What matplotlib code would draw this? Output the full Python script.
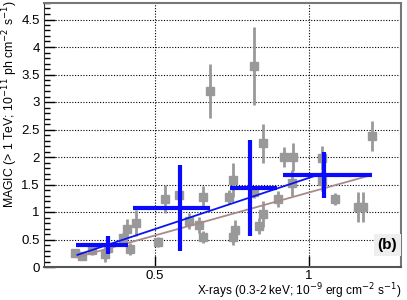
#!/usr/bin/env python3
"""MAGIC vs X-ray flux correlation, panel (b)."""

import numpy as np
import matplotlib
matplotlib.use("Agg")
import matplotlib.pyplot as plt
from matplotlib.ticker import MultipleLocator, FixedLocator

plt.rcParams["font.family"] = ["Liberation Sans", "DejaVu Sans"]

# Individual nights (gray)
xray = [0.243, 0.266, 0.298, 0.340, 0.350, 0.399, 0.412, 0.421, 0.441, 0.512,
        0.535, 0.580, 0.612, 0.642, 0.658, 0.658, 0.680, 0.742, 0.755, 0.752,
        0.761, 0.823, 0.820, 0.839, 0.852, 0.852, 0.898, 0.917, 0.946, 0.943,
        1.040, 1.040, 1.082, 1.157, 1.173, 1.202]
magic = [0.255, 0.20, 0.31, 0.24, 0.35, 0.53, 0.69, 0.33, 0.80, 0.45,
         1.24, 1.31, 0.84, 0.76, 1.27, 0.55, 3.20, 1.27, 1.58, 0.55,
         0.67, 3.65, 1.36, 0.75, 0.96, 2.25, 1.24, 2.00, 2.00, 1.53,
         1.98, 1.56, 1.24, 1.09, 1.09, 2.38]
magic_err = [0.07, 0.07, 0.09, 0.15, 0.11, 0.09, 0.18, 0.11, 0.24, 0.09,
             0.25, 0.22, 0.15, 0.15, 0.20, 0.11, 0.49, 0.13, 0.31, 0.15,
             0.18, 0.71, 0.11, 0.15, 0.24, 0.35, 0.15, 0.18, 0.25, 0.24,
             0.22, 0.18, 0.11, 0.27, 0.27, 0.27]

# Binned averages (blue crosses)
bin_x = [0.350, 0.581, 0.807, 1.048]
bin_xlo = [0.104, 0.151, 0.064, 0.132]
bin_xhi = [0.065, 0.097, 0.090, 0.154]
bin_y = [0.40, 1.067, 1.431, 1.673]
bin_yerr = [0.17, 0.78, 0.87, 0.42]

# Fit lines: (x0, x1), (y0, y1)
fit_blue_x = [0.250, 1.047]
fit_blue_y = [0.22, 1.71]
fit_brown_x = [0.250, 1.200]
fit_brown_y = [0.18, 1.67]

W, H = 407, 300
fig = plt.figure(figsize=(W / 100, H / 100), dpi=100)
ax = fig.add_axes([44 / W, 1 - 267 / H, (401 - 44) / W, (267 - 3) / H])

gray = "#999999"
ax.errorbar(xray, magic, yerr=magic_err, fmt="s", color=gray, ms=5.5,
            elinewidth=2, capsize=0, zorder=2)
ax.plot(fit_brown_x, fit_brown_y, color="#a88a8a", lw=1.3, zorder=3)
ax.plot(fit_blue_x, fit_blue_y, color="#0a14f0", lw=1.3, zorder=3)
ax.errorbar(bin_x, bin_y, xerr=[bin_xlo, bin_xhi], yerr=bin_yerr, fmt="none",
            ecolor="#0a0aff", elinewidth=3, capsize=0, zorder=4)

ax.set_xlim(0.142, 1.297)
ax.set_ylim(0, 4.8)
ax.xaxis.set_major_locator(FixedLocator([0.5, 1.0]))
ax.set_xticklabels(["0.5", "1"])
ax.yaxis.set_minor_locator(MultipleLocator(0.1))
ax.set_yticks(np.arange(0, 4.6, 0.5))
ax.set_yticklabels(["0", "0.5", "1", "1.5", "2", "2.5", "3", "3.5", "4", "4.5"])
ax.tick_params(axis="both", which="major", direction="in", length=8,
               width=1, labelsize=9.5, pad=3)
ax.tick_params(axis="x", which="major", pad=2)
ax.tick_params(axis="y", which="minor", direction="in", length=4, width=1)
ax.grid(True, which="major", linestyle=(0, (1, 1.5)), color="black", lw=0.8)

for side in ["top", "right"]:
    ax.spines[side].set_color("#777777")
    ax.spines[side].set_linewidth(1.5)
ax.spines["left"].set_color("#333333")
ax.spines["bottom"].set_color("#555555")
ax.spines["bottom"].set_linewidth(1.5)

ax.text(0.962, 0.083, "(b)", transform=ax.transAxes, ha="center", va="center",
        fontsize=11, fontweight="bold",
        bbox=dict(boxstyle="square,pad=0.25", fc="#eeeeee", ec="none"))

fig.text(10 / W, 1.0, "MAGIC (> 1 TeV; 10$^{-11}$ ph cm$^{-2}$ s$^{-1}$)",
         rotation=90, ha="center", va="top", fontsize=8.8)
fig.text(401 / W, 1 - 291 / H,
         "X-rays (0.3-2 keV; 10$^{-9}$ erg cm$^{-2}$ s$^{-1}$)",
         ha="right", va="center", fontsize=8.6)

fig.savefig("out.png", dpi=100)
